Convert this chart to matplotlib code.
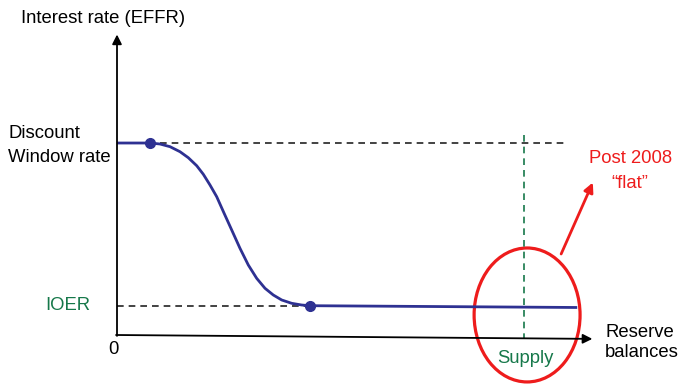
import matplotlib
matplotlib.use("Agg")
import matplotlib.pyplot as plt
from matplotlib.patches import Ellipse

plt.rcParams['font.family'] = ['Liberation Sans', 'DejaVu Sans']

# Conceptual demand curve for reserves (x = reserve balances, y = EFFR)
curve_x = [0, 6.98, 9.09, 11.21, 13.32, 15.07, 16.85, 18.25, 19.66, 21.08, 22.62,
           24.25, 26.00, 27.76, 29.53, 31.29, 33.04, 34.82, 36.93, 39.05, 40.80, 97.3]
curve_y = [64.21, 64.21, 63.88, 62.98, 61.30, 59.30, 56.62, 53.75, 50.17, 46.25, 40.80,
           35.12, 29.00, 23.41, 18.96, 15.62, 13.38, 11.71, 10.60, 10.03, 9.80, 9.2]
dot_x = [6.98, 40.8]
dot_y = [64.21, 9.8]
discount_rate = 64.2
ioer_rate = 9.8
supply = 86.0

BLUE = '#2e3192'
GREEN = '#16784a'
RED = '#ee1c1c'

W, H = 679, 392
fig = plt.figure(figsize=(W / 100, H / 100), dpi=100)
# origin at pixel (117, 335); x 0..100 -> 117..590 px ; y 0..100 -> 335..36 px
x0, y0 = 117, 335
sx, sy = 4.73, 2.99
ax = fig.add_axes([x0 / W, (H - y0) / H, 100 * sx / W, 100 * sy / H])
ax.set_xlim(0, 100)
ax.set_ylim(0, 100)
ax.axis('off')

# axes arrows
ax.annotate('', xy=(0, 100.5), xytext=(0, -0.3), xycoords='data', annotation_clip=False,
            arrowprops=dict(arrowstyle='-|>', color='black', lw=1.3, mutation_scale=14, shrinkA=0, shrinkB=0))
ax.annotate('', xy=(100.5, -1.3), xytext=(-0.2, 0), xycoords='data', annotation_clip=False,
            arrowprops=dict(arrowstyle='-|>', color='black', lw=1.3, mutation_scale=14, shrinkA=0, shrinkB=0))

# dashed reference lines
ax.plot([9, 95], [discount_rate, discount_rate], ls=(0, (4, 3)), color='#222222', lw=1.2, clip_on=False)
ax.plot([0, 55.5], [ioer_rate, ioer_rate], ls=(0, (4, 3)), color='#222222', lw=1.2, clip_on=False)
ax.plot([supply, supply], [67, -1], ls=(0, (4, 3)), color=GREEN, lw=1.2, clip_on=False)

# curve
ax.plot(curve_x, curve_y, color=BLUE, lw=2, clip_on=False, solid_capstyle='butt', solid_joinstyle='round')
ax.plot(dot_x, dot_y, 'o', color=BLUE, ms=7, clip_on=False)

# red ellipse
ax.add_patch(Ellipse((86.7, 6.7), 22.4, 44.8, fill=False, edgecolor=RED, lw=2.3, clip_on=False))
# red arrow
ax.annotate('', xy=(100.6, 51.0), xytext=(93.9, 27.1), annotation_clip=False,
            arrowprops=dict(arrowstyle='-|>', color=RED, lw=2, mutation_scale=14, shrinkA=0, shrinkB=0))

fs = 13.3
ax.text(108.5, 58.9, 'Post 2008', color=RED, fontsize=fs, ha='center', va='center', clip_on=False)
ax.text(108.5, 50.8, '\u201cflat\u201d', color=RED, fontsize=fs, ha='center', va='center', clip_on=False)

ax.text(-20.4, 106.0, 'Interest rate (EFFR)', fontsize=fs, ha='left', va='center', clip_on=False)
ax.text(-23.0, 67.4, 'Discount', fontsize=fs, ha='left', va='center', clip_on=False)
ax.text(-23.0, 59.3, 'Window rate', fontsize=fs, ha='left', va='center', clip_on=False)
ax.text(-10.4, 9.8, 'IOER', color=GREEN, fontsize=fs, ha='center', va='center', clip_on=False)
ax.text(-0.8, -5.0, '0', fontsize=fs, ha='center', va='center', clip_on=False)
ax.text(86.3, -8.0, 'Supply', color=GREEN, fontsize=fs, ha='center', va='center', clip_on=False)
ax.text(103.2, 1.0, 'Reserve', fontsize=fs, ha='left', va='center', clip_on=False)
ax.text(103.2, -6.0, 'balances', fontsize=fs, ha='left', va='center', clip_on=False)

fig.savefig('out.png', dpi=100)
